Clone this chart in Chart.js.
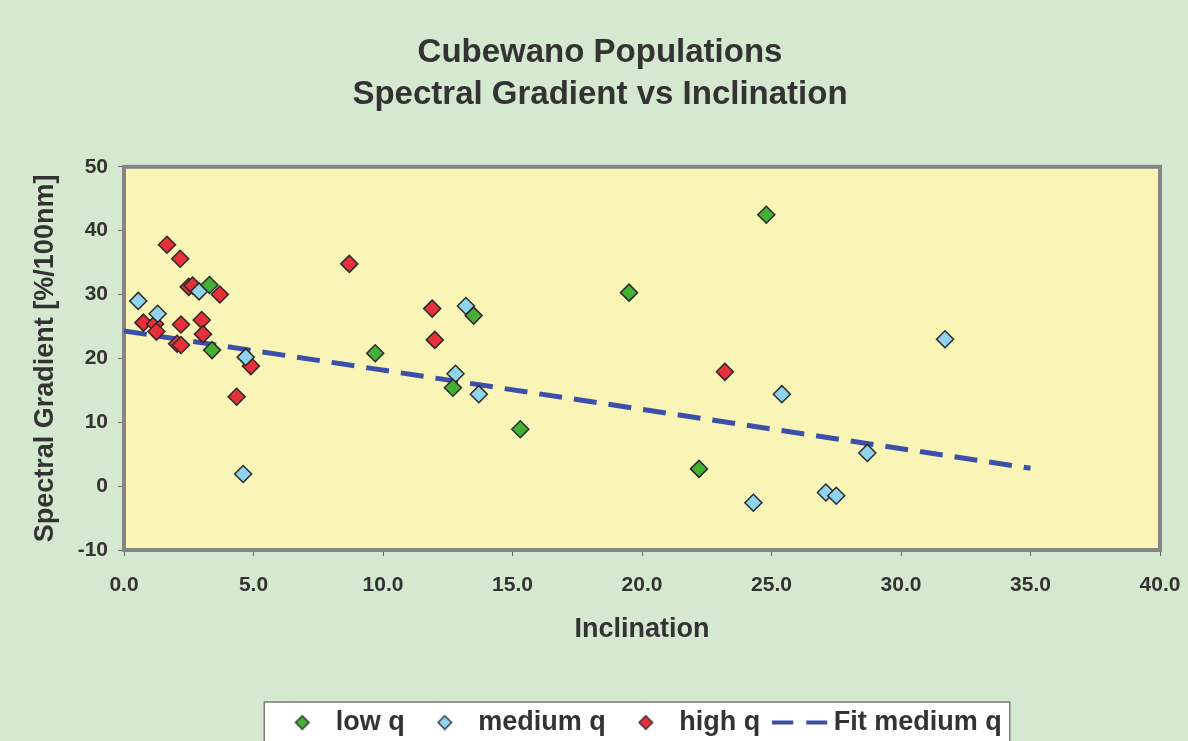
<!DOCTYPE html>
<html>
<head>
<meta charset="utf-8">
<title>Cubewano Populations</title>
<script src="https://cdn.jsdelivr.net/npm/chart.js@4.4.1/dist/chart.umd.min.js"></script>
<style>
  html, body { margin: 0; padding: 0; background: #d5e8d0; }
  #wrap { width: 1188px; height: 741px; position: relative; }
</style>
</head>
<body>
<div id="wrap"><canvas id="cubewanoChart"></canvas></div>
<script>
// values (inclination in deg, gradient in %/100nm)
const lowQX = [24.8, 19.5, 3.3, 3.4, 9.7, 13.5, 12.7, 15.3, 22.2];
const lowQY = [42.5, 30.3, 31.5, 21.3, 20.8, 26.7, 15.4, 8.9, 2.7];

const mediumQX = [0.55, 1.3, 2.9, 4.7, 4.6, 13.2, 12.8, 13.7, 31.7, 25.4, 28.7, 27.1, 27.5, 24.3];
const mediumQY = [29.0, 27.0, 30.5, 20.2, 1.9, 28.2, 17.6, 14.4, 23.0, 14.4, 5.2, -1.0, -1.5, -2.6];

const highQX = [1.66, 2.17, 2.5, 2.65, 3.7, 0.75, 1.2, 1.25, 2.2, 3.0, 3.05, 2.05, 2.2, 4.9, 4.35, 8.7, 11.9, 12.0, 23.2];
const highQY = [37.8, 35.6, 31.2, 31.4, 30.0, 25.6, 25.4, 24.2, 25.3, 26.0, 23.8, 22.3, 22.1, 18.8, 14.0, 34.8, 27.8, 22.9, 17.9];

// linear fit to the medium q group, endpoints as drawn
const fitX = [0, 35];
const fitY = [24.3, 2.8];

const xTicks = [0, 5, 10, 15, 20, 25, 30, 35, 40];
const yTicks = [-10, 0, 10, 20, 30, 40, 50];

const FONT = '"Liberation Sans", Arial, sans-serif';
const TEXT = '#333333';
const GREEN = '#45b035';
const BLUE = '#8fd3ee';
const RED = '#e8303a';
const FIT = '#3c50aa';

const toPoints = (xs, ys) => xs.map((x, i) => ({ x: x, y: ys[i] }));

// legend glyphs: small diamonds and a dashed stroke
function diamondGlyph(fill) {
    const c = document.createElement('canvas');
    c.width = 16;
    c.height = 16;
    const g = c.getContext('2d');
    g.beginPath();
    g.moveTo(8, 1.2);
    g.lineTo(14.8, 8);
    g.lineTo(8, 14.8);
    g.lineTo(1.2, 8);
    g.closePath();
    g.fillStyle = fill;
    g.fill();
    g.strokeStyle = '#2b2b2b';
    g.lineWidth = 1.3;
    g.stroke();
    return c;
}

function dashGlyph() {
    const c = document.createElement('canvas');
    c.width = 56;
    c.height = 6;
    const g = c.getContext('2d');
    g.strokeStyle = FIT;
    g.lineWidth = 4;
    g.setLineDash([21, 13]);
    g.beginPath();
    g.moveTo(0, 3);
    g.lineTo(56, 3);
    g.stroke();
    return c;
}

const legendGlyphs = {
    'low q': diamondGlyph(GREEN),
    'medium q': diamondGlyph(BLUE),
    'high q': diamondGlyph(RED),
    'Fit medium q': dashGlyph()
};

// page background, yellow plot area, legend box and plot frame
const backdrop = {
    id: 'backdrop',
    beforeDraw(chart) {
        const { ctx, chartArea: a } = chart;
        ctx.save();
        ctx.fillStyle = '#d5e8d0';
        ctx.fillRect(0, 0, chart.width, chart.height);
        ctx.fillStyle = '#f8f5b6';
        ctx.fillRect(a.left, a.top, a.right - a.left, a.bottom - a.top);

        const boxes = chart.legend && chart.legend.legendHitBoxes;
        if (boxes && boxes.length) {
            const first = boxes[0];
            const last = boxes[boxes.length - 1];
            const left = first.left - 18;
            const right = last.left + last.width + 8;
            const top = first.top - 7;
            ctx.fillStyle = '#ffffff';
            ctx.fillRect(left, top, right - left, chart.height - top + 5);
            ctx.strokeStyle = '#7a7a7a';
            ctx.lineWidth = 1.5;
            ctx.strokeRect(left, top, right - left, chart.height - top + 5);
        }
        ctx.restore();
    },
    beforeDatasetsDraw(chart) {
        const { ctx, chartArea: a } = chart;
        ctx.save();
        ctx.strokeStyle = '#858585';
        ctx.lineWidth = 4;
        ctx.strokeRect(a.left, a.top, a.right - a.left, a.bottom - a.top);
        ctx.restore();
    }
};

const marker = {
    pointStyle: 'rectRot',
    pointRadius: 8.5,
    pointHoverRadius: 9.5,
    borderColor: '#2b2b2b',
    borderWidth: 1.5,
    order: 0
};

const config = {
    type: 'scatter',
    data: {
        datasets: [
            Object.assign({ label: 'low q', data: toPoints(lowQX, lowQY), backgroundColor: GREEN }, marker),
            Object.assign({ label: 'medium q', data: toPoints(mediumQX, mediumQY), backgroundColor: BLUE }, marker),
            Object.assign({ label: 'high q', data: toPoints(highQX, highQY), backgroundColor: RED }, marker),
            {
                type: 'line',
                label: 'Fit medium q',
                data: toPoints(fitX, fitY),
                borderColor: FIT,
                backgroundColor: FIT,
                borderWidth: 5,
                borderDash: [23, 12],
                pointRadius: 0,
                fill: false,
                order: 1
            }
        ]
    },
    options: {
        responsive: true,
        maintainAspectRatio: false,
        animation: false,
        layout: {
            padding: { left: 40, right: 28, top: 0, bottom: -5 }
        },
        plugins: {
            title: {
                display: true,
                text: ['Cubewano Populations', 'Spectral Gradient vs Inclination'],
                color: TEXT,
                font: { family: FONT, size: 33, weight: 'bold', lineHeight: 1.27 },
                padding: { top: 32, bottom: 51 }
            },
            legend: {
                position: 'bottom',
                fullSize: false,
                labels: {
                    usePointStyle: true,
                    pointStyleWidth: 40,
                    padding: 20,
                    color: TEXT,
                    font: { family: FONT, size: 27, weight: 'bold' },
                    generateLabels(chart) {
                        const items = Chart.defaults.plugins.legend.labels.generateLabels(chart);
                        items.forEach(function(item) {
                            item.pointStyle = legendGlyphs[item.text];
                        });
                        return items;
                    }
                }
            },
            tooltip: { enabled: true }
        },
        scales: {
            x: {
                type: 'linear',
                min: 0,
                max: 40,
                afterBuildTicks: function(scale) {
                    scale.ticks = xTicks.map(v => ({ value: v }));
                },
                afterFit: function(scale) {
                    scale.height = 139;
                    scale.paddingLeft = 0;
                    scale.paddingRight = 0;
                },
                border: { display: false },
                grid: { drawOnChartArea: false, color: '#666666', tickLength: 6 },
                ticks: {
                    color: TEXT,
                    padding: 17,
                    font: { family: FONT, size: 21, weight: 'bold' },
                    callback: function(value) {
                        return value.toFixed(1);
                    }
                },
                title: {
                    display: true,
                    text: 'Inclination',
                    color: TEXT,
                    font: { family: FONT, size: 27, weight: 'bold' },
                    padding: { top: 0, bottom: 43 }
                }
            },
            y: {
                type: 'linear',
                min: -10,
                max: 50,
                afterBuildTicks: function(scale) {
                    scale.ticks = yTicks.map(v => ({ value: v }));
                },
                afterFit: function(scale) {
                    scale.width = 84;
                },
                border: { display: false },
                grid: { drawOnChartArea: false, color: '#666666', tickLength: 6 },
                ticks: {
                    color: TEXT,
                    padding: 10,
                    font: { family: FONT, size: 21, weight: 'bold' }
                },
                title: {
                    display: true,
                    text: 'Spectral Gradient [%/100nm]',
                    color: TEXT,
                    font: { family: FONT, size: 27, weight: 'bold' },
                    padding: { top: -11, bottom: 0 }
                }
            }
        }
    },
    plugins: [backdrop]
};

const ctx = document.getElementById('cubewanoChart').getContext('2d');
const cubewanoChart = new Chart(ctx, config);
</script>
</body>
</html>
